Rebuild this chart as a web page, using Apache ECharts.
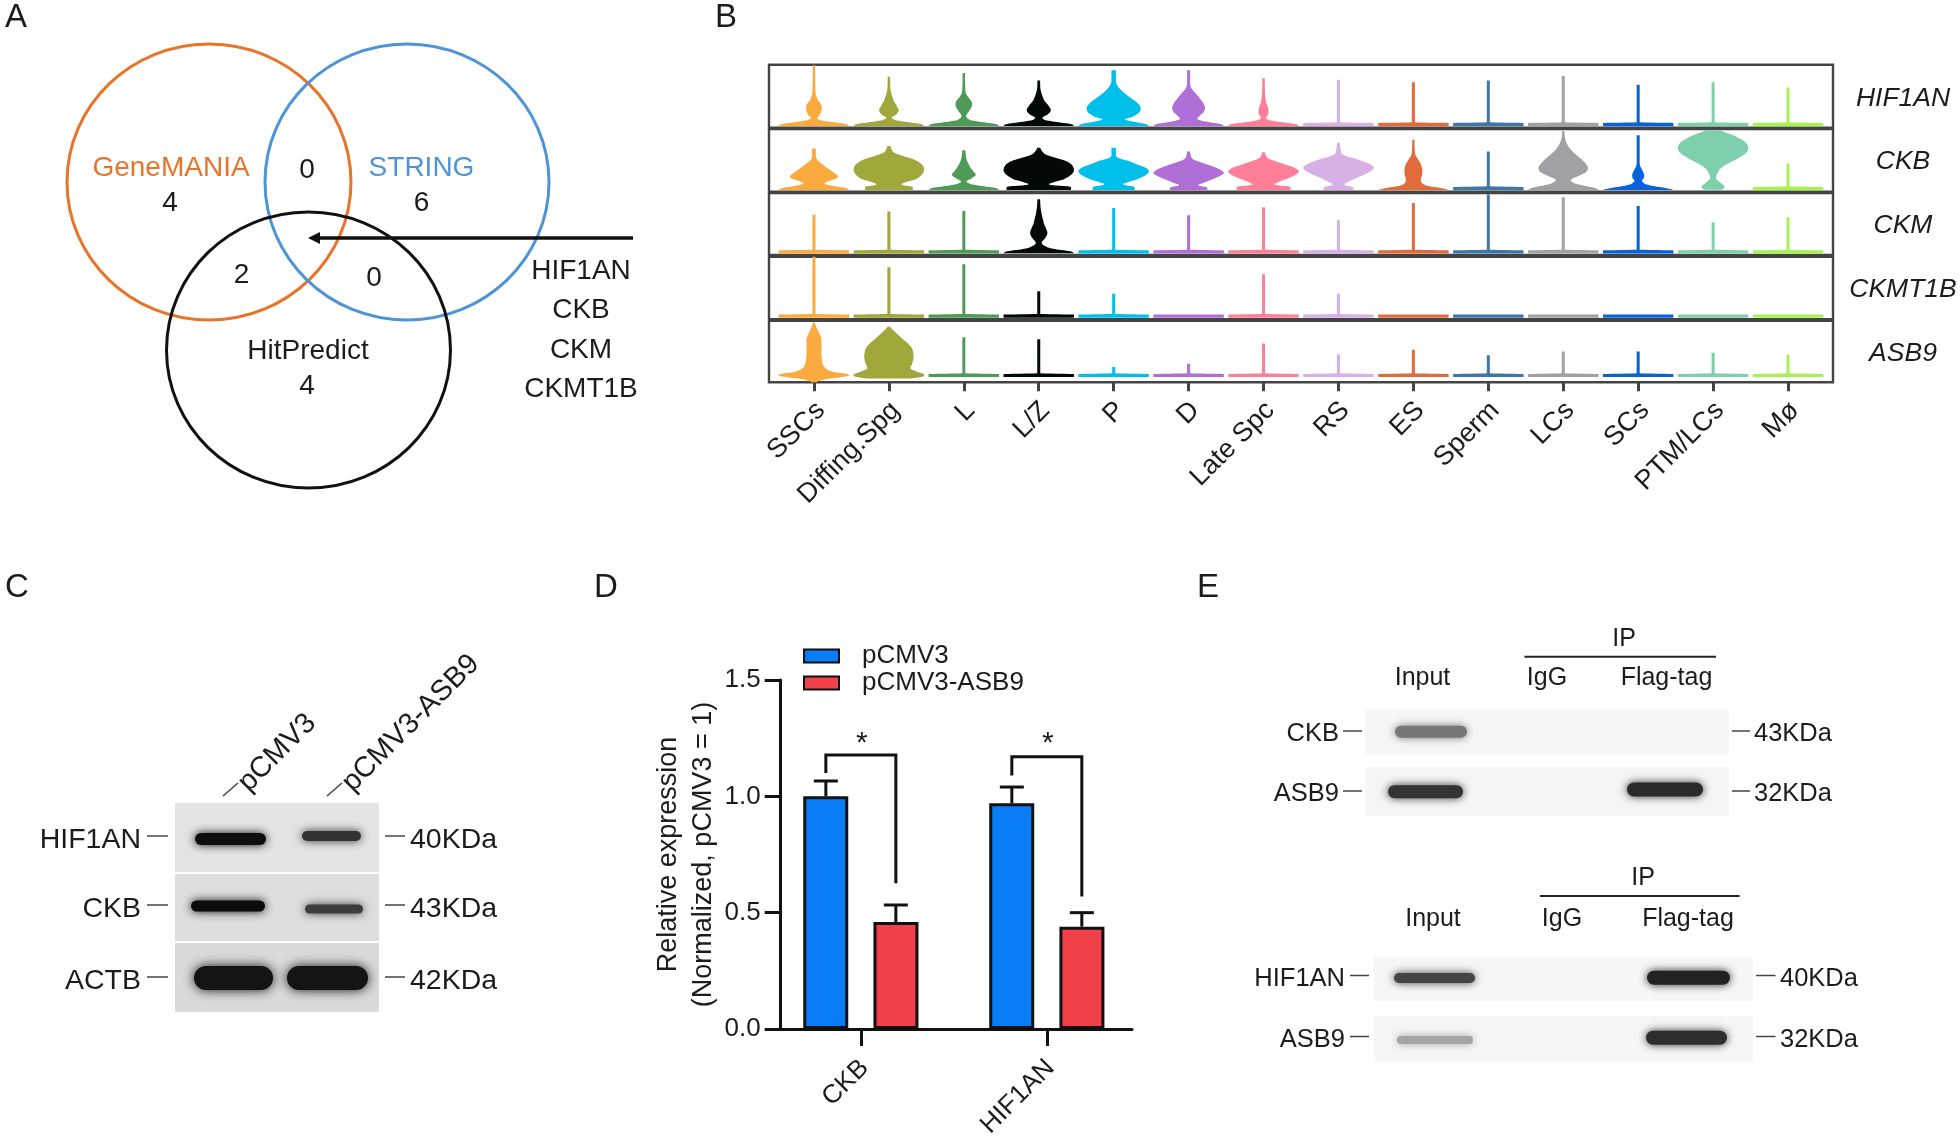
<!DOCTYPE html>
<html><head><meta charset="utf-8">
<style>html,body{margin:0;padding:0;background:#fff}#c{width:1960px;height:1138px}</style>
<script src="https://cdn.jsdelivr.net/npm/echarts@6/dist/echarts.min.js"></script>
</head><body><div id="c"></div>
<script>
// ---------- Panel B data ----------
const cellTypes = ['SSCs','Diffing.Spg','L','L/Z','P','D','Late Spc','RS','ES','Sperm','LCs','SCs','PTM/LCs','Mø'];
const cellColors = ['#FBAA3F','#A0A83C','#4F9A57','#030A05','#00BFEA','#B06FD6','#FF7F98','#D7B0E6','#E06C3C','#3F76A8','#9FA1A4','#0763DA','#7ECFAB','#A8F254'];
const genes = ['HIF1AN','CKB','CKM','CKMT1B','ASB9'];
// A number is the tip of a thin stem on a flat foot; a list is [height, half width] read from bottom to top.
const violinHIF1AN = [
 [[.027,.47],[.06,.42],[.09,.24],[.12,.09],[.15,.04],[.2,.075],[.27,.1],[.32,.105],[.38,.09],[.44,.05],[.55,.022],[.99,.016]],
 [[.027,.47],[.06,.42],[.09,.24],[.12,.09],[.16,.035],[.2,.09],[.27,.13],[.33,.11],[.44,.06],[.6,.022],[.81,.016]],
 [[.027,.47],[.06,.42],[.09,.24],[.12,.09],[.18,.03],[.28,.08],[.35,.11],[.41,.105],[.5,.05],[.57,.022],[.87,.016]],
 [[.027,.47],[.06,.42],[.09,.24],[.12,.09],[.16,.05],[.21,.12],[.27,.16],[.33,.14],[.44,.07],[.6,.025],[.75,.018]],
 [[.027,.47],[.06,.42],[.09,.28],[.13,.15],[.17,.25],[.24,.34],[.32,.36],[.4,.31],[.48,.22],[.55,.14],[.65,.06],[.73,.03],[.91,.03]],
 [[.027,.47],[.06,.42],[.09,.26],[.13,.12],[.19,.15],[.25,.2],[.32,.22],[.4,.19],[.48,.14],[.55,.09],[.63,.035],[.71,.02],[.91,.02]],
 [[.027,.47],[.06,.42],[.09,.22],[.12,.08],[.15,.035],[.22,.065],[.3,.065],[.4,.035],[.55,.02],[.79,.016]],
 .76,.72,.75,.82,.68,.72,.64];
const violinCKB = [
 [[.027,.47],[.06,.42],[.09,.26],[.13,.14],[.17,.2],[.21,.3],[.25,.32],[.3,.27],[.36,.2],[.43,.12],[.5,.05],[.56,.025],[.69,.025]],
 [[.027,.32],[.08,.31],[.11,.17],[.15,.22],[.2,.36],[.27,.44],[.35,.47],[.42,.45],[.48,.39],[.53,.3],[.58,.16],[.63,.06],[.73,.02]],
 [[.027,.47],[.06,.42],[.09,.24],[.12,.1],[.16,.035],[.21,.1],[.27,.16],[.32,.13],[.38,.09],[.5,.04],[.66,.02]],
 [[.027,.43],[.08,.42],[.11,.14],[.15,.2],[.2,.34],[.28,.44],[.35,.47],[.43,.44],[.49,.36],[.55,.2],[.6,.08],[.7,.02]],
 [[.027,.28],[.08,.27],[.11,.13],[.14,.16],[.19,.3],[.26,.42],[.32,.47],[.38,.43],[.44,.3],[.49,.2],[.53,.08],[.57,.03],[.7,.03]],
 [[.027,.25],[.07,.24],[.1,.13],[.14,.2],[.2,.32],[.26,.43],[.3,.47],[.36,.41],[.42,.28],[.47,.16],[.51,.07],[.55,.035],[.64,.02]],
 [[.027,.36],[.08,.35],[.11,.15],[.15,.2],[.22,.34],[.28,.44],[.33,.47],[.39,.4],[.44,.27],[.49,.15],[.54,.05],[.63,.02]],
 [[.027,.2],[.07,.2],[.11,.08],[.16,.14],[.24,.28],[.32,.42],[.39,.47],[.46,.38],[.52,.24],[.57,.1],[.61,.04],[.78,.018]],
 [[.027,.47],[.06,.36],[.09,.2],[.13,.12],[.19,.1],[.27,.115],[.35,.12],[.44,.1],[.5,.07],[.58,.03],[.66,.018],[.83,.015]],
 .64,
 [[.027,.47],[.06,.42],[.09,.3],[.13,.16],[.19,.1],[.25,.2],[.31,.3],[.37,.33],[.43,.31],[.52,.24],[.6,.16],[.7,.08],[.82,.03],[.97,.015]],
 [[.027,.47],[.06,.36],[.09,.2],[.12,.1],[.17,.05],[.22,.075],[.27,.08],[.33,.06],[.4,.03],[.45,.02],[.9,.02]],
 [[.03,.1],[.05,.15],[.09,.15],[.13,.11],[.21,.04],[.3,.06],[.37,.1],[.45,.2],[.53,.33],[.62,.44],[.71,.47],[.8,.42],[.9,.27],[.98,.1]],
 .45];
const violinCKM = [.65,.7,.71,
 [[.027,.47],[.06,.42],[.09,.24],[.12,.12],[.19,.04],[.28,.09],[.35,.115],[.42,.1],[.5,.07],[.72,.03],[.9,.018]],
 .76,.64,.77,.56,.84,.98,.93,.79,.53,.61];
const violinCKMT1B = [1,.83,.88,.45,.41,0,.72,.41,0,0,0,0,0,0];
const violinASB9 = [
 [[0,.03],[.05,.15],[.08,.35],[.11,.47],[.14,.42],[.17,.25],[.22,.16],[.3,.115],[.46,.1],[.7,.1],[.85,.05],[.97,.012]],
 [[.06,.3],[.09,.45],[.13,.47],[.17,.38],[.22,.29],[.3,.31],[.41,.33],[.55,.31],[.62,.26],[.72,.17],[.81,.09],[.9,.02]],
 .73,.7,.25,.3,.63,.45,.53,.44,.5,.5,.48,.45];
const violinRows = [violinHIF1AN,violinCKB,violinCKM,violinCKMT1B,violinASB9];
const footBase = [.025,.025,.025,.025,.085];

// ---------- Panel D data ----------
const barGenes = ['CKB','HIF1AN'];
const seriesNames = ['pCMV3','pCMV3-ASB9'];
const meanCtrl = [1.0,0.97];
const meanAsb9 = [0.46,0.44];
const errCtrl = [1.066,1.04];
const errAsb9 = [0.533,0.5];
const bracketLeft = [1.10,1.09];
const bracketTop = [1.178,1.17];
const bracketRight = [0.626,0.569];
const starLevel = [1.25,1.25];

// ---------- Panel A, C, E text ----------
const vennTitles = ['GeneMANIA','STRING','HitPredict'];
const vennCounts = ['4','6','4','0','2','0'];
const sharedGenes = ['HIF1AN','CKB','CKM','CKMT1B'];
const panelLetters = ['A','B','C','D','E'];
const blotCRows = ['HIF1AN','CKB','ACTB'];
const blotCSizes = ['40KDa','43KDa','42KDa'];
const blotCLanes = ['pCMV3','pCMV3-ASB9'];
const blotE1Rows = ['CKB','ASB9'];
const blotE1Sizes = ['43KDa','32KDa'];
const blotE2Rows = ['HIF1AN','ASB9'];
const blotE2Sizes = ['40KDa','32KDa'];
const ipLanes = ['Input','IgG','Flag-tag'];

// ---------- helpers ----------
const FF = '"Liberation Sans",Arial,sans-serif', INK = '#1c1c1c';
const T = (text,x,y,size,align,opt) => ({type:'text',x,y:y+2,silent:true,z:20,rotation:(opt&&opt.rot)||0,
  style:{text,fontSize:size,fontFamily:FF,fill:(opt&&opt.fill)||INK,fontStyle:(opt&&opt.italic)?'italic':'normal',align:align||'center',verticalAlign:'middle'}});
const L = (x1,y1,x2,y2,w,c) => ({type:'line',silent:true,z:15,shape:{x1,y1,x2,y2},style:{stroke:c||'#444',lineWidth:w||1.5}});
const E = (cx,cy,rx,ry,c) => ({type:'ellipse',silent:true,z:10,shape:{cx,cy,rx,ry},style:{fill:'none',stroke:c,lineWidth:3}});
const BG = (x0,y0,x1,y1,c) => ({type:'rect',silent:true,z:1,shape:{x:x0,y:y0,width:x1-x0,height:y1-y0},style:{fill:c}});
const BAND = (x0,x1,yc,h,c,blur) => ({type:'rect',silent:true,z:2,shape:{x:x0+2,y:yc-h/2,width:x1-x0-4,height:h,r:h/2},
  style:{fill:c,shadowColor:c,shadowBlur:blur||10}});

function stem(tip,base){
  const foot=[[base,.47],[base+.05,.47]];
  if(tip<=base+.06) return foot;
  return foot.concat([[base+.06,.02],[tip,.02]]);
}
function smoothProfile(p){
  const out=[];
  for(let i=0;i<p.length-1;i++){
    const a=p[Math.max(i-1,0)],b=p[i],c=p[i+1],d=p[Math.min(i+2,p.length-1)];
    const lo=Math.min(b[1],c[1]),hi=Math.max(b[1],c[1]);
    for(let k=0;k<6;k++){
      const t=k/6;
      const w=.5*((2*b[1])+(c[1]-a[1])*t+(2*a[1]-5*b[1]+4*c[1]-d[1])*t*t+(3*b[1]-a[1]-3*c[1]+d[1])*t*t*t);
      out.push([b[0]+(c[0]-b[0])*t,Math.min(hi,Math.max(lo,w))]);
    }
  }
  out.push(p[p.length-1]);
  return out;
}
function renderViolin(row){
  return function(params,api){
    const i=api.value(0);
    const raw=violinRows[row][i];
    const prof=smoothProfile(Array.isArray(raw)?raw:stem(raw,footBase[row]));
    const unit=api.size([1,0])[0];
    const cx=api.coord([i,0])[0];
    const left=prof.map(q=>[cx-q[1]*unit,api.coord([i,q[0]])[1]]);
    const right=prof.slice().reverse().map(q=>[cx+q[1]*unit,api.coord([i,q[0]])[1]]);
    return {type:'polygon',shape:{points:left.concat(right)},style:{fill:cellColors[i]}};
  };
}

// ---------- layout ----------
const rowTop=[64.7,129,193,256.7,320.7], rowBottom=[127.7,191.7,255,319.3,382.3], rowLabelY=[96.7,160,224,288,352];
const grids=[],xAxes=[],yAxes=[],series=[];
const tickIdx=cellTypes.map((_,i)=>i);
const labelPosB=tickIdx.map(i=>i+0.09);   // labels sit slightly right of their ticks, as in the figure
genes.forEach((g,r)=>{
  grids.push({left:769,width:1064,top:rowTop[r],height:rowBottom[r]-rowTop[r],show:true,borderColor:'#444',borderWidth:2.4,backgroundColor:'transparent',outerBoundsMode:'none'});
  const last=r===genes.length-1;
  xAxes.push({gridIndex:r,type:'value',min:-0.6,max:13.6,show:last,splitLine:{show:false},axisLine:{show:false},
    axisTick:{show:last,customValues:tickIdx,length:9,lineStyle:{color:'#444',width:3}},
    axisLabel:{show:last,customValues:labelPosB,rotate:45,margin:24,fontSize:27,fontFamily:FF,color:INK,hideOverlap:false,formatter:v=>cellTypes[Math.round(v)]}});
  yAxes.push({gridIndex:r,type:'value',min:0,max:1,show:false,splitLine:{show:false}});
  series.push({type:'custom',name:g,xAxisIndex:r,yAxisIndex:r,clip:false,silent:true,
    renderItem:renderViolin(r),encode:{x:0},data:tickIdx.map(i=>[i])});
});
// Panel D
const D=genes.length;
grids.push({left:780.7,width:351.3,top:680,height:349,outerBoundsMode:'none'});
xAxes.push({gridIndex:D,type:'value',min:-0.431,max:1.458,splitLine:{show:false},
  axisLine:{show:true,onZero:false,lineStyle:{color:'#111',width:3}},
  axisTick:{show:true,customValues:[0,1],length:17,lineStyle:{color:'#111',width:3}},
  axisLabel:{customValues:[0.02,1.02],rotate:45,margin:35,fontSize:26,fontFamily:FF,color:INK,formatter:v=>barGenes[Math.round(v)]}});
yAxes.push({gridIndex:D,type:'value',min:0,max:1.5,interval:0.5,splitLine:{show:false},
  name:'Relative expression\n(Normalized, pCMV3 = 1)',nameLocation:'middle',nameGap:60,nameRotate:90,
  nameTextStyle:{fontSize:27,fontFamily:FF,color:INK,lineHeight:35},
  axisLine:{show:true,onZero:false,lineStyle:{color:'#111',width:3}},
  axisTick:{show:true,length:16,lineStyle:{color:'#111',width:3}},
  axisLabel:{margin:20,fontSize:26,fontFamily:FF,color:INK,formatter:v=>v.toFixed(1)}});
const OFF=35;
const barCommon={type:'bar',xAxisIndex:D,yAxisIndex:D,barWidth:45,barGap:'56%',silent:true,z:3};
series.push(Object.assign({},barCommon,{name:seriesNames[0],data:meanCtrl.map((v,i)=>[i,v]),
  itemStyle:{color:'#0A7CF5',borderColor:'#111',borderWidth:3}}));
series.push(Object.assign({},barCommon,{name:seriesNames[1],data:meanAsb9.map((v,i)=>[i,v]),
  itemStyle:{color:'#F2404A',borderColor:'#111',borderWidth:3}}));
function errSeries(means,errs,off){
  return {type:'custom',xAxisIndex:D,yAxisIndex:D,silent:true,z:2,encode:{x:0,y:2},
    data:means.map((m,i)=>[i,m,errs[i]]),
    renderItem(p,api){
      const x=api.coord([api.value(0),0])[0]+off, y0=api.coord([0,api.value(1)])[1], y1=api.coord([0,api.value(2)])[1];
      const st={stroke:'#111',lineWidth:3,fill:'none'};
      return {type:'group',children:[
        {type:'line',shape:{x1:x,y1:y0,x2:x,y2:y1},style:st},
        {type:'line',shape:{x1:x-12,y1:y1,x2:x+12,y2:y1},style:st}]};
    }};
}
series.push(errSeries(meanCtrl,errCtrl,-OFF),errSeries(meanAsb9,errAsb9,OFF));
series.push({type:'custom',xAxisIndex:D,yAxisIndex:D,silent:true,z:4,encode:{x:0,y:2},
  data:barGenes.map((_,i)=>[i,bracketLeft[i],bracketTop[i],bracketRight[i],starLevel[i]]),
  renderItem(p,api){
    const c=api.coord([api.value(0),0])[0], Y=v=>api.coord([0,v])[1];
    return {type:'group',children:[
      {type:'polyline',shape:{points:[[c-OFF,Y(api.value(1))],[c-OFF,Y(api.value(2))],[c+OFF,Y(api.value(2))],[c+OFF,Y(api.value(3))]]},
       style:{stroke:'#111',lineWidth:3,fill:'none'}},
      {type:'text',x:c+1,y:Y(api.value(4))+6,style:{text:'*',fontSize:30,fontFamily:FF,fill:INK,align:'center',verticalAlign:'middle'}}]};
  }});

// ---------- graphic parts ----------
const g=[];
// letters
[[5,16],[715,16],[5,586],[594,586],[1197,586]].forEach((p,i)=>g.push(T(panelLetters[i],p[0],p[1],33,'left')));
// Panel A
g.push(E(209,182,142,138,'#E8742A'),E(407,182,142,138,'#4F94D4'),E(308.5,350,142,138,'#111'));
g.push(T(vennTitles[0],171,166,28,'center',{fill:'#E8742A'}),T(vennTitles[1],421.5,166,28,'center',{fill:'#4F94D4'}),T(vennTitles[2],308,349,28));
[[170,201],[421.5,201],[307,384],[307,168],[241.5,273],[374,276]].forEach((p,i)=>g.push(T(vennCounts[i],p[0],p[1],28)));
sharedGenes.forEach((s,i)=>g.push(T(s,581,[269,308,348,387][i],28)));
g.push(L(633,238,318,238,3.5,'#111'));
g.push({type:'polygon',silent:true,z:16,shape:{points:[[308,238],[320,232],[320,244]]},style:{fill:'#111'}});
// row labels of panel B
genes.forEach((s,i)=>g.push(T(s,1903,rowLabelY[i],26.5,'center',{italic:true})));
// Panel C
g.push(BG(175,803,379,872,'#e4e4e4'),BG(175,874,379,941,'#dedede'),BG(175,943,379,1012,'#dadada'));
g.push(BAND(193,268,839,12,'#0e0e0e'),BAND(300,363,836,10,'#333'),
       BAND(189,267,906,11,'#0c0c0c'),BAND(303,365,909,9,'#3c3c3c'),
       BAND(192,275,978,24,'#141414',12),BAND(285,370,978,24,'#141414',12));
blotCRows.forEach((s,i)=>{
  const y=[838,907,979][i];
  g.push(T(s,141,y,28.5,'right'),L(147,y-2,168,y-2),L(385,y-2,405,y-2),T(blotCSizes[i],410,y,28.5,'left'));
});
const R45=Math.PI/4;
g.push(L(223,796,238,783),L(327,796,342,783));
g.push(T(blotCLanes[0],243,785,29,'left',{rot:R45}),T(blotCLanes[1],347,785,29,'left',{rot:R45}));
// Panel E
g.push(BG(1365,710,1729,754,'#f6f6f6'),BG(1365,767,1729,816,'#f5f5f5'),BG(1374,957,1753,1001,'#f6f6f6'),BG(1374,1016,1753,1062,'#f6f6f6'));
g.push(BAND(1393,1469,731.7,12,'#777',9),BAND(1386,1465,791.7,13,'#333',9),BAND(1625,1705,789.5,14,'#2a2a2a',9),
       BAND(1392,1477,978,10,'#444',8),BAND(1645,1732,977.7,14,'#222',9),BAND(1395,1475,1040,8,'#a4a4a4',8),BAND(1644,1729,1037.7,14,'#2e2e2e',9));
g.push(T('IP',1624,636.7,25),L(1524.5,656.7,1716,656.7,2,'#222'));
[1422.5,1547,1666.5].forEach((x,i)=>g.push(T(ipLanes[i],x,675.7,25)));
g.push(T('IP',1643,875.7,25),L(1540,896,1739.6,896,2,'#222'));
[1433,1562,1688].forEach((x,i)=>g.push(T(ipLanes[i],x,916.7,25)));
blotE1Rows.forEach((s,i)=>{
  const y=[732,792][i];
  g.push(T(s,1339,y,25.5,'right'),L(1343,y-1,1362,y-1),L(1732,y-1,1750,y-1),T(blotE1Sizes[i],1754,y,25.5,'left'));
});
blotE2Rows.forEach((s,i)=>{
  const y=[977,1038][i];
  g.push(T(s,1345,y,25.5,'right'),L(1350,y-1.5,1369,y-1.5),L(1756,y-1.5,1775.5,y-1.5),T(blotE2Sizes[i],1780,y,25.5,'left'));
});

const option={
  animation:false,backgroundColor:'#fff',
  textStyle:{fontFamily:FF},
  legend:{show:true,data:seriesNames.map(name=>({name,icon:'rect'})),orient:'vertical',left:798,top:638,itemWidth:35,itemHeight:13,itemGap:1,selectedMode:false,
    textStyle:{fontSize:26,fontFamily:FF,color:INK,padding:[0,0,0,18]}},
  grid:grids,xAxis:xAxes,yAxis:yAxes,series,graphic:{elements:g}
};
echarts.init(document.getElementById('c'),null,{renderer:'canvas'}).setOption(option);
</script></body></html>
